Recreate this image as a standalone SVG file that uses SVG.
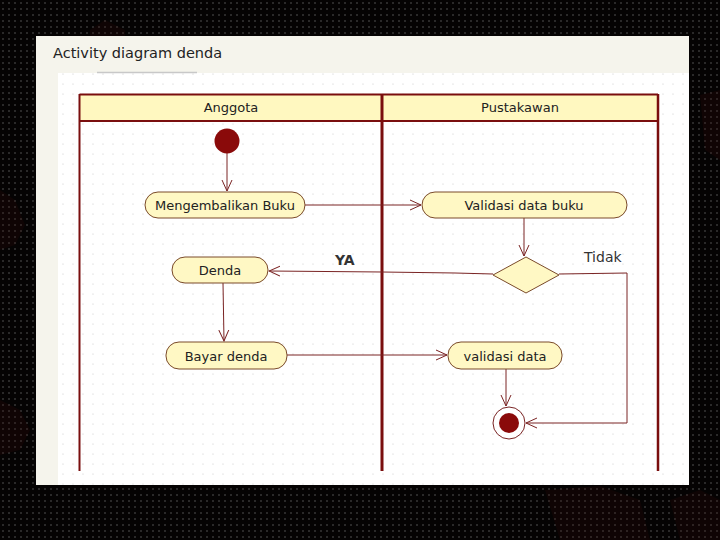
<svg xmlns="http://www.w3.org/2000/svg" width="720" height="540" viewBox="0 0 720 540">
<defs>
<pattern id="bgdots" width="6" height="6" patternUnits="userSpaceOnUse">
<rect width="6" height="6" fill="#050303"/>
<circle cx="3" cy="3" r="0.7" fill="#6a6a6a"/>
</pattern>
<pattern id="grid" width="10" height="10" patternUnits="userSpaceOnUse" x="2" y="3">
<rect width="10" height="10" fill="#ffffff"/>
<circle cx="1" cy="1" r="0.6" fill="#c8c8c8"/>
</pattern>
<marker id="arr" viewBox="0 0 12 12" refX="11" refY="6" markerWidth="12" markerHeight="12" markerUnits="userSpaceOnUse" orient="auto">
<path d="M0,1 L11,6 L0,11" fill="none" stroke="#7a2424" stroke-width="1"/>
</marker>
<style>
.node{fill:#fff8c4;stroke:#7a4a2a;stroke-width:1}
.lbl{font-family:"DejaVu Sans","Liberation Sans",sans-serif;font-size:13px;fill:#222;text-anchor:middle}
.hdr{font-family:"DejaVu Sans","Liberation Sans",sans-serif;font-size:13px;fill:#222;text-anchor:middle}
.lane{stroke:#7a0e0e;fill:none}
.con{stroke:#7a2424;stroke-width:1;fill:none}
</style>
</defs>
<rect width="720" height="540" fill="url(#bgdots)"/>
<g fill="#3a0c08" opacity="0.2">
<polygon points="90,30 105,20 125,30 125,36 90,36"/>
<polygon points="0,190 15,200 25,225 15,245 0,250"/>
<polygon points="0,400 20,410 30,430 20,450 0,455"/>
<polygon points="700,95 720,90 720,160 705,150"/>
<polygon points="545,490 600,486 640,500 650,540 560,540"/>
<polygon points="670,500 700,490 720,500 720,540 680,540"/>
</g>
<rect x="36" y="36" width="653" height="449" fill="#f5f4ec"/>
<rect x="58" y="73" width="631" height="412" fill="url(#grid)"/>
<line x1="97" y1="72.5" x2="197" y2="72.5" stroke="#c8c8c8" stroke-width="1.5"/>
<text x="53" y="58" font-family="DejaVu Sans, Liberation Sans, sans-serif" font-size="14.5" fill="#222">Activity diagram denda</text>
<g id="swimlanes">
<rect x="79.5" y="94.5" width="578" height="26" fill="#fff8c0"/>
<line class="lane" x1="79.5" y1="94.5" x2="658" y2="94.5" stroke-width="2"/>
<line class="lane" x1="79.5" y1="121" x2="658" y2="121" stroke-width="2"/>
<line class="lane" x1="79.5" y1="94" x2="79.5" y2="471" stroke-width="2"/>
<line class="lane" x1="382" y1="94" x2="382" y2="471" stroke-width="3"/>
<line class="lane" x1="658" y1="94" x2="658" y2="471" stroke-width="2.5"/>
<text class="hdr" x="231" y="112">Anggota</text>
<text class="hdr" x="520" y="112">Pustakawan</text>
</g>
<g id="connectors">
<line class="con" x1="227" y1="153" x2="227" y2="191" marker-end="url(#arr)"/>
<line class="con" x1="305" y1="205" x2="421" y2="205" marker-end="url(#arr)"/>
<line class="con" x1="524" y1="218" x2="524" y2="256" marker-end="url(#arr)"/>
<polyline class="con" points="493,274 455,273 382,272 269,271" marker-end="url(#arr)"/>
<polyline class="con" points="559,274 627,273 627,423 526,423" marker-end="url(#arr)"/>
<line class="con" x1="223" y1="283" x2="224" y2="341" marker-end="url(#arr)"/>
<line class="con" x1="287" y1="355" x2="447" y2="355" stroke-width="2" marker-end="url(#arr)"/>
<line class="con" x1="506" y1="369" x2="506" y2="406" marker-end="url(#arr)"/>
</g>
<g id="labels">
<text x="335" y="265" font-family="DejaVu Sans, Liberation Sans, sans-serif" font-size="14" font-weight="bold" fill="#333">YA</text>
<text x="584" y="262" font-family="DejaVu Sans, Liberation Sans, sans-serif" font-size="14" fill="#333">Tidak</text>
</g>
<g id="start"><circle cx="227" cy="141" r="12.5" fill="#8a0a0a"/></g>
<g id="mengembalikan"><rect class="node" x="145" y="192" width="160" height="26" rx="13"/><text class="lbl" x="225" y="210">Mengembalikan Buku</text></g>
<g id="validasi-buku"><rect class="node" x="422" y="192" width="205" height="26" rx="13"/><text class="lbl" x="524" y="210">Validasi data buku</text></g>
<g id="decision"><polygon class="node" points="526,257 559,275 526,293 493,275"/></g>
<g id="denda"><rect class="node" x="172" y="257" width="96" height="26" rx="13"/><text class="lbl" x="220" y="275">Denda</text></g>
<g id="bayar"><rect class="node" x="166" y="342" width="121" height="27" rx="13"/><text class="lbl" x="226" y="361">Bayar denda</text></g>
<g id="validasi-data"><rect class="node" x="448" y="342" width="114" height="27" rx="13"/><text class="lbl" x="505" y="361">validasi data</text></g>
<g id="end"><circle cx="509" cy="423" r="16" fill="#ffffff" stroke="#7a2424" stroke-width="1"/><circle cx="509" cy="423" r="10" fill="#8a0a0a"/></g>
</svg>
